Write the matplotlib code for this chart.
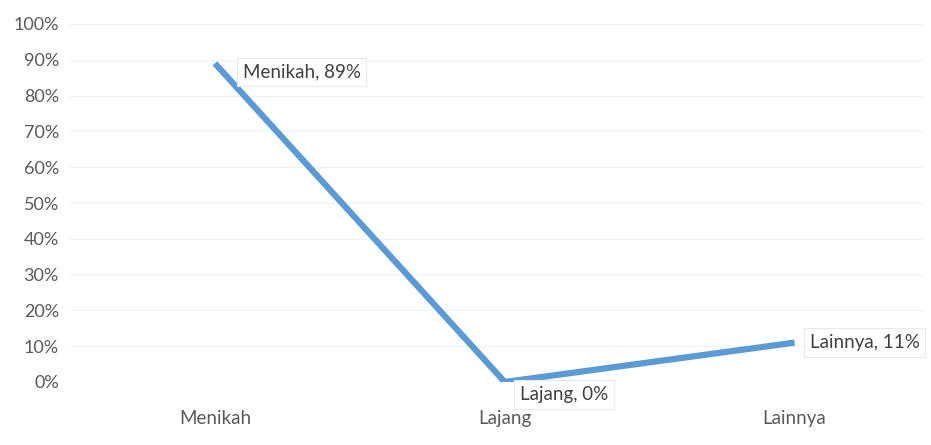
import matplotlib
matplotlib.use("Agg")
import matplotlib.pyplot as plt
from matplotlib.ticker import PercentFormatter

categories = ["Menikah", "Lajang", "Lainnya"]
values = [0.89, 0.00, 0.11]
label_texts = ["Menikah, 89%", "Lajang, 0%", "Lainnya, 11%"]
yticks = [i / 10 for i in range(11)]

plt.rcParams['font.family'] = ['Lato', 'DejaVu Sans']

fig = plt.figure(figsize=(9.31, 4.45), dpi=100)
ax = fig.add_axes([70/931, 63/445, (925-70)/931, (382-24)/445])

x = list(range(len(categories)))
ax.plot(x, values, color="#5B9BD5", lw=4.5, solid_capstyle="butt", zorder=3)

ax.set_xlim(-0.5, 2.45)
ax.set_ylim(0, 1.0)
ax.set_yticks(yticks)
ax.yaxis.set_major_formatter(PercentFormatter(1.0, decimals=0))
ax.set_xticks(x)
ax.set_xticklabels(categories)
ax.tick_params(axis="both", length=0, colors="#595959")
ax.tick_params(axis="y", labelsize=13, pad=8)
ax.tick_params(axis="x", labelsize=13.5, pad=20)
ax.grid(axis="y", color="#f2f2f2", lw=0.8)
for s in ax.spines.values():
    s.set_visible(False)

offsets = [(20, -6), (11, -9), (11, 0)]
for xi, v, t, off in zip(x, values, label_texts, offsets):
    ax.annotate(t, (xi, v), xytext=off, textcoords="offset points",
                ha="left", va="center", fontsize=13.5, color="#404040",
                bbox=dict(boxstyle="square,pad=0.3", fc="white", ec="#e8e8e8", lw=0.8),
                zorder=5, annotation_clip=False)

fig.savefig("out.png", dpi=100, facecolor="white")
